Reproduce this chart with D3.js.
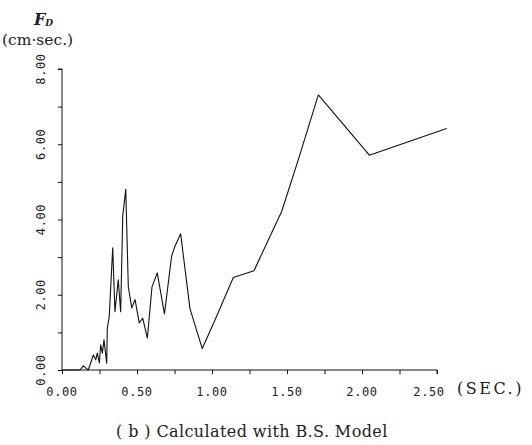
<!DOCTYPE html>
<html>
<head>
<meta charset="utf-8">
<script src="https://cdn.jsdelivr.net/npm/d3@7"></script>
<style>
  body { margin: 0; background: #fff; }
  text { fill: #222; }
</style>
</head>
<body>
<div id="chart"></div>
<script>
// period (sec) and F_D values
var period = [0, 0.12, 0.142, 0.16, 0.175, 0.209, 0.225, 0.235, 0.249, 0.258, 0.269, 0.28, 0.298,
  0.302, 0.315, 0.338, 0.353, 0.375, 0.391, 0.405, 0.425, 0.442, 0.465, 0.487, 0.515, 0.538,
  0.569, 0.60, 0.635, 0.683, 0.731, 0.753, 0.791, 0.853, 0.935, 1.02, 1.142, 1.28, 1.465,
  1.576, 1.709, 2.049, 2.564];
var fd = [0, 0, 0.11, 0.05, 0, 0.40, 0.27, 0.45, 0.19, 0.67, 0.45, 0.80, 0.18,
  1.11, 1.42, 3.25, 1.55, 2.40, 1.55, 4.09, 4.80, 2.22, 1.65, 1.87, 1.25, 1.38,
  0.85, 2.21, 2.58, 1.49, 3.03, 3.29, 3.62, 1.63, 0.57, 1.33, 2.46, 2.64, 4.22,
  5.60, 7.31, 5.71, 6.42];

var xTicks = d3.range(0, 2.5001, 0.25);
var xLabels = [0, 0.5, 1.0, 1.5, 2.0, 2.5];
var yTicks = d3.range(0, 8.001, 1);
var yLabels = [0, 2, 4, 6, 8];

var width = 532, height = 445;

var svg = d3.select("#chart")
  .append("svg")
    .attr("width", width)
    .attr("height", height);

var x = d3.scaleLinear().domain([0, 2.5]).range([62, 437]);
var y = d3.scaleLinear().domain([0, 8]).range([370, 69]);
var fmt = d3.format(".2f");

// x axis
var xAxis = svg.append("g")
  .attr("transform", "translate(0," + y(0) + ")")
  .call(d3.axisBottom(x).tickValues(xTicks).tickSize(4).tickFormat(""));
xAxis.select(".domain").attr("d", "M" + x(0) + ",0H" + x(2.5) + "V4");

// y axis
var yAxis = svg.append("g")
  .attr("transform", "translate(" + x(0) + ",0)")
  .call(d3.axisLeft(y).tickValues(yTicks).tickSize(4).tickFormat(""));
yAxis.select(".domain").attr("d", "M-4," + y(8) + "H0V" + y(0));

svg.selectAll("g.tick line, .domain").attr("stroke", "#111").attr("stroke-width", 1);

// x tick labels
svg.append("g")
  .selectAll("text")
  .data(xLabels)
  .enter()
  .append("text")
    .attr("x", d => x(d) - (d === 2.5 ? 8 : 0))
    .attr("y", 396)
    .attr("text-anchor", "middle")
    .style("font-family", "DejaVu Sans Mono")
    .style("font-size", "12px")
    .style("letter-spacing", "0.6px")
    .text(d => fmt(d));

// y tick labels, rotated
svg.append("g")
  .selectAll("text")
  .data(yLabels)
  .enter()
  .append("text")
    .attr("transform", d => "translate(45," + y(d) + ") rotate(-90)")
    .attr("text-anchor", "middle")
    .style("font-family", "DejaVu Sans Mono")
    .style("font-size", "12px")
    .style("letter-spacing", "0.6px")
    .text(d => fmt(d));

// the curve
svg.append("path")
  .datum(period.map((p, i) => [p, fd[i]]))
  .attr("fill", "none")
  .attr("stroke", "#111")
  .attr("stroke-width", 1.1)
  .attr("stroke-linejoin", "round")
  .attr("d", d3.line().x(d => x(d[0])).y(d => y(d[1])));

// axis titles
var ft = svg.append("text")
  .attr("x", 34)
  .attr("y", 25)
  .style("font-family", "DejaVu Serif")
  .style("font-style", "italic")
  .style("font-weight", "bold")
  .style("font-size", "16px");
ft.append("tspan").text("F");
ft.append("tspan").attr("dy", 1).style("font-size", "9px").text("D");

svg.append("text")
  .attr("x", 2)
  .attr("y", 45)
  .style("font-family", "DejaVu Serif")
  .style("font-size", "15.5px")
  .text("(cm\u00b7sec.)");

svg.append("text")
  .attr("x", 457)
  .attr("y", 394)
  .style("font-family", "DejaVu Serif")
  .style("font-size", "16px")
  .style("letter-spacing", "2.5px")
  .text("(SEC.)");

// caption
svg.append("text")
  .attr("x", 116)
  .attr("y", 437)
  .style("font-family", "DejaVu Serif")
  .style("font-size", "16px")
  .style("letter-spacing", "0.4px")
  .text("( b )  Calculated with B.S. Model");
</script>
</body>
</html>
